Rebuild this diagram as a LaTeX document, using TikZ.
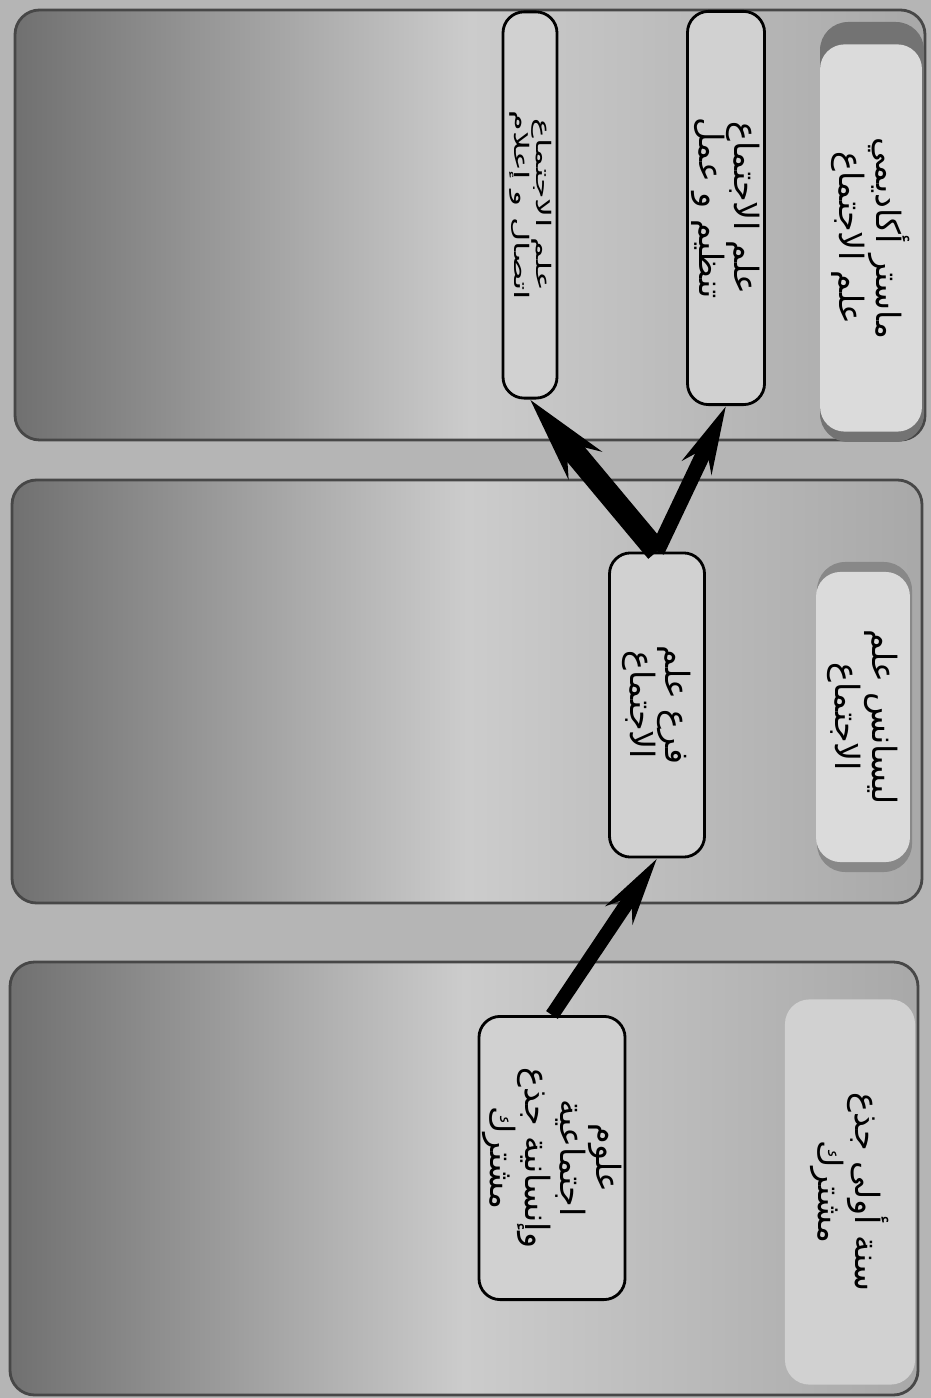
\documentclass[tikz,border=0pt]{standalone}
\usepackage{fontspec}
\newfontfamily\arabicfont[Script=Arabic]{DejaVu Sans}
\TeXXeTstate=1
\usetikzlibrary{arrows.meta}
\definecolor{pagegray}{gray}{0.71}
\definecolor{banddark}{gray}{0.44}
\definecolor{bandlight}{gray}{0.80}
\definecolor{bandmid}{gray}{0.66}
\definecolor{bandline}{gray}{0.28}
\definecolor{headfill}{gray}{0.86}
\definecolor{headshade}{gray}{0.45}
\definecolor{boxfill}{gray}{0.82}
\tikzset{
  stageband/.style={draw=bandline, line width=0.8pt, rounded corners=7pt,
    left color=banddark, right color=bandmid, middle color=bandlight},
  headbox/.style={rotate=-90, fill=headfill, rounded corners=7pt, align=center,
    font=\arabicfont\fontsize{9.5}{10.5}\selectfont},
  branchbox/.style={rotate=-90, draw=black, line width=0.8pt, fill=boxfill, inner sep=1pt,
    rounded corners=6pt, align=center, font=\arabicfont\fontsize{9.5}{10}\selectfont},
  bigarrow/.style={draw=black, line cap=butt}
}
\begin{document}
\begin{tikzpicture}[x=0.01cm, y=-0.01cm]
\useasboundingbox (0,0) rectangle (931,1398);
\fill[pagegray] (0,0) rectangle (931,1398);

\draw[stageband] (15,10) rectangle (925,440);
\draw[stageband] (12,480) rectangle (922,903);
\draw[stageband] (10,962) rectangle (918,1395);

\fill[headshade, rounded corners=8pt] (820,22) rectangle (924,442);
\fill[headshade!60!bandmid, rounded corners=8pt] (817,562) rectangle (912,872);

\node[headbox, minimum width=3.87cm, minimum height=0.87cm] (master) at (871,238)
  {\beginR ماستر أكاديمي\endR\\ \beginR علم الاجتماع\endR};
\node[headbox, minimum width=2.9cm, minimum height=0.78cm] (licence) at (863,717)
  {\beginR ليسانس علم\endR\\ \beginR الاجتماع\endR};
\node[headbox, fill=headfill!80!bandmid, minimum width=3.85cm, minimum height=1.3cm] (common) at (850,1192)
  {\beginR سنة أولى جذع\endR\\ \beginR مشترك\endR};

\node[branchbox, minimum width=2.83cm, minimum height=1.39cm] (social) at (552,1158)
  {\beginR علوم\endR\\ \beginR اجتماعية\endR\\ \beginR وإنسانية جذع\endR\\ \beginR مشترك\endR};
\node[branchbox, minimum width=3.04cm, minimum height=0.95cm] (sociology) at (657,705)
  {\beginR فرع علم\endR\\ \beginR الاجتماع\endR};
\node[branchbox, minimum width=3.93cm, minimum height=0.77cm] (work) at (726,208)
  {\beginR علم الاجتماع\endR\\ \beginR تنظيم و عمل\endR};
\node[branchbox, minimum width=3.86cm, minimum height=0.54cm, inner sep=0.5pt] (media) at (530,205)
  {\scalebox{1}[0.6]{\begin{tabular}{@{}c@{}}\beginR علم الاجتماع\endR\\ \beginR اتصال و إعلام\endR\end{tabular}}};

\draw[bigarrow, line width=4pt, -{Stealth[length=19pt, width=9pt, inset=6pt]}] (social.west) -- (sociology.east);
\draw[bigarrow, line width=6.5pt, -{Stealth[length=24pt, width=12pt, inset=8pt]}] (sociology.west) -- (media.east);
\draw[bigarrow, line width=4.3pt, -{Stealth[length=19pt, width=9pt, inset=6pt]}] (sociology.west) -- (work.east);
\end{tikzpicture}
\end{document}
